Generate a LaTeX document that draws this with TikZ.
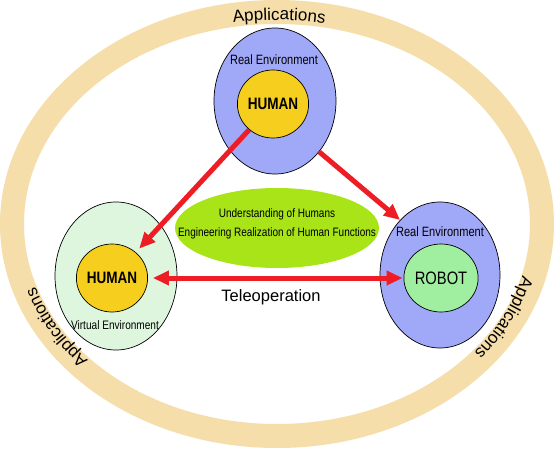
\documentclass[tikz,border=0pt]{standalone}
\usepackage{fontspec}
\setmainfont{Liberation Sans}
\newfontfamily\narrow[FakeStretch=0.82]{Liberation Sans}
\usetikzlibrary{shapes.geometric,arrows.meta,decorations.text,calc}
\definecolor{band}{RGB}{246,222,170}
\definecolor{envblue}{RGB}{160,168,248}
\definecolor{humyellow}{RGB}{246,206,30}
\definecolor{virtgreen}{RGB}{222,246,222}
\definecolor{robgreen}{RGB}{160,238,160}
\definecolor{limegreen}{RGB}{168,228,24}
\definecolor{arrowred}{RGB}{238,28,36}
\newcommand{\appstyle}{\fontsize{17}{20}\selectfont}
\tikzset{
  env/.style={ellipse, draw=black, line width=0.7pt, inner sep=0pt},
  core/.style={ellipse, draw=black, line width=0.7pt, inner sep=0pt, minimum width=57pt, minimum height=68pt},
  redarrow/.style={draw=arrowred, line width=5pt},
  >={Triangle[length=16pt,width=14pt]},
  lbl/.style={inner sep=0pt, font=\narrow\fontsize{13.5}{15}\selectfont},
  midlbl/.style={inner sep=0pt, anchor=base, font=\narrow\fontsize{12.2}{14}\selectfont},
  applbl/.style={decorate, decoration={text along path, text={|\appstyle|Applications}, text align=center}},
}
\begin{document}
\begin{tikzpicture}[x=1pt,y=1pt]
\useasboundingbox (0,0) rectangle (554,448);
\fill[white] (0,0) rectangle (554,448);
\coordinate (C) at (277,224);
\fill[band,even odd rule] (C) ellipse [x radius=277pt,y radius=224pt] (C) ellipse [x radius=253pt,y radius=200pt];
% curved labels on the ring
\path[applbl] ($(C)+(110:254pt and 204pt)$) arc[start angle=110,end angle=69,x radius=254pt,y radius=204pt];
\path[applbl] ($(C)+(-6:254pt and 204pt)$) arc[start angle=-6,end angle=-47,x radius=254pt,y radius=204pt];
\path[applbl] ($(C)+(230:254pt and 204pt)$) arc[start angle=230,end angle=189,x radius=254pt,y radius=204pt];
% top: real environment with human
\node[env, fill=envblue, minimum width=122pt, minimum height=146pt] (tb) at (275,347) {};
\node[core, fill=humyellow, font=\narrow\bfseries\fontsize{16.5}{18}\selectfont] (ty) at (273,344) {HUMAN};
\node[lbl] (tre) at (274,388) {Real Environment};
% left: virtual environment with human
\node[env, fill=virtgreen, minimum width=122pt, minimum height=148pt] (lg) at (116,172) {};
\node[core, fill=humyellow, font=\narrow\bfseries\fontsize{16.5}{18}\selectfont] (ly) at (112,170) {HUMAN};
\node[lbl, font=\narrow\fontsize{12.3}{14}\selectfont] (lve) at (115,123) {Virtual Environment};
% right: real environment with robot
\node[env, fill=envblue, minimum width=120pt, minimum height=146pt] (rb) at (440,173) {};
\node[core, fill=robgreen, font=\narrow\fontsize{18}{20}\selectfont] (rg) at (441,170) {ROBOT};
\node[lbl] (rre) at (440,216) {Real Environment};
% centre
\node[ellipse, fill=limegreen, minimum width=204pt, minimum height=80pt, inner sep=0pt] (mid) at (277,220) {};
\node[midlbl] (mt1) at (277,230.5) {Understanding of Humans};
\node[midlbl] (mt2) at (277,211.5) {Engineering Realization of Human Functions};
% arrows
\draw[redarrow, ->, shorten >=5pt] (ty) -- (ly);
\draw[redarrow, ->] (tb.-49) -- (rb.126);
\draw[redarrow, <->, shorten <=5pt, shorten >=1pt] (ly.east) -- (rg.west);
\node[inner sep=0pt, anchor=base, font=\fontsize{16.5}{18}\selectfont] (tele) at (271,147) {Teleoperation};
\end{tikzpicture}
\end{document}
